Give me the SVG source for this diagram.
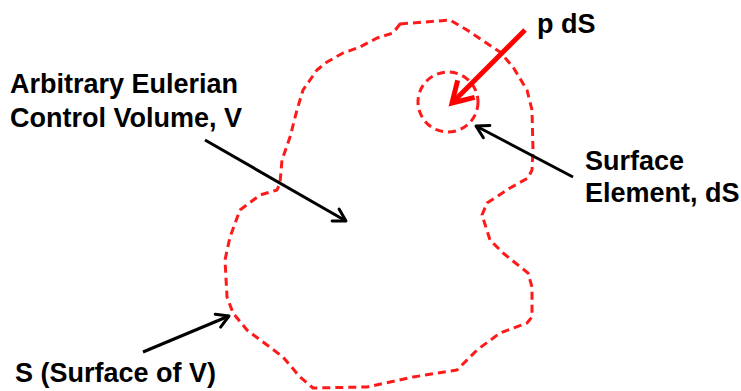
<svg xmlns="http://www.w3.org/2000/svg" width="741" height="391" viewBox="0 0 741 391">
<style>
.lbl{font-family:"Liberation Sans",Arial,sans-serif;font-weight:bold;font-size:27px;fill:#000}
.dash{fill:none;stroke:#ff1a1a;stroke-width:3;stroke-dasharray:8 5;stroke-linejoin:round}
.blk{fill:none;stroke:#000;stroke-width:3}
.red{fill:none;stroke:#ff0000;stroke-width:5}
</style>
<defs>
<marker id="ah" markerUnits="userSpaceOnUse" markerWidth="20" markerHeight="20" refX="0" refY="0" viewBox="-15 -10 20 20" orient="auto">
<path d="M-12,-7 L0,0 L-12,7" fill="none" stroke="#000" stroke-width="3" stroke-linecap="round" stroke-linejoin="round"/>
</marker>
<marker id="ahr" markerUnits="userSpaceOnUse" markerWidth="40" markerHeight="40" refX="0" refY="0" viewBox="-25 -20 40 40" orient="auto">
<path d="M-20,-12 L0,0 L-20,12" fill="none" stroke="#ff0000" stroke-width="5" stroke-linejoin="miter"/>
</marker>
</defs>
<g id="controlVolume">
<path class="dash" d="M400,24 L450,20 L467,30 L500,52 L513,67 L527,90 L532,110 L533,150 L532,170 L528,178 L510,188 L487,203 L482,215 L490,240 L503,253 L528,273 L532,287 L532,317 L527,323 L500,333 L477,350 L457,370 L413,377 L367,387 L313,388 L300,377 L283,357 L247,330 L233,313 L227,297 L225,260 L230,237 L240,210 L260,195 L277,190 L280,183 L282,160 L290,137 L297,110 L303,90 L317,70 L327,62 L343,53 L360,47 L377,38 L393,33 Z"/>
</g>
<g id="surfaceElement">
<circle class="dash" cx="448" cy="102" r="30"/>
</g>
<g id="connectors">
<line class="red" x1="525" y1="30" x2="452" y2="103" marker-end="url(#ahr)"/>
<line class="blk" x1="205" y1="140" x2="346" y2="221" marker-end="url(#ah)"/>
<line class="blk" x1="573" y1="177" x2="476" y2="126" marker-end="url(#ah)"/>
<line class="blk" x1="143" y1="352" x2="229" y2="316" marker-end="url(#ah)"/>
</g>
<g id="labels">
<text class="lbl" x="537" y="33">p dS</text>
<text class="lbl" x="10" y="93">Arbitrary Eulerian</text>
<text class="lbl" x="10" y="127">Control Volume, V</text>
<text class="lbl" x="585" y="170">Surface</text>
<text class="lbl" x="585" y="202">Element, dS</text>
<text class="lbl" x="15" y="382">S (Surface of V)</text>
</g>
</svg>
